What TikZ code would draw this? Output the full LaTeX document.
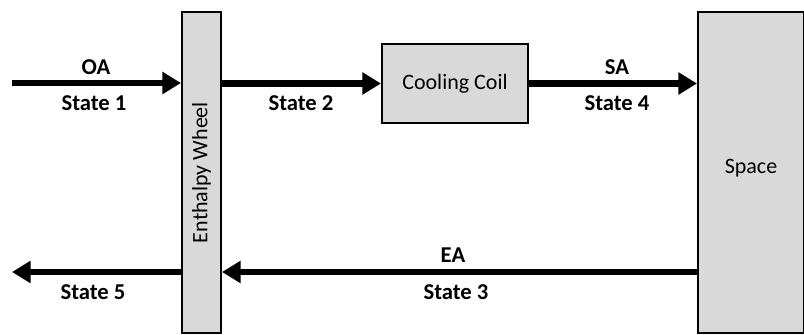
\documentclass[tikz,border=0pt]{standalone}
\usepackage{fontspec}
\setmainfont{Carlito}
\usetikzlibrary{arrows.meta}
\begin{document}
\begin{tikzpicture}[x=0.75pt,y=-0.75pt,
  box/.style={draw=black,line width=1.5pt,fill=black!15,inner sep=0pt,font=\fontsize{16.5}{19}\selectfont},
  flow/.style={line width=5.2pt,-{Triangle[length=14pt,width=16pt]}},
  lbl/.style={font=\bfseries\fontsize{17}{20}\selectfont,inner sep=0pt}]
\useasboundingbox (0,0) rectangle (804,335);
\node[box,minimum width=39*0.75pt,minimum height=321*0.75pt] (wheel) at (201.5,172.5) {};
\node[rotate=90,font=\fontsize{16.5}{19}\selectfont] at (wheel.center) {Enthalpy Wheel};
\node[box,minimum width=146*0.75pt,minimum height=79*0.75pt] (coil) at (455,83.5) {Cooling Coil};
\node[box,minimum width=106*0.75pt,minimum height=321*0.75pt] (space) at (751,172.5) {};
\node[font=\fontsize{16.5}{19}\selectfont] at (751,168) {Space};
\coordinate (oain) at (12,83);
\coordinate (eaout) at (12,272);
\draw[flow] (oain) -- (oain -| wheel.west);
\draw[flow] (wheel.east |- coil.west) -- (coil.west);
\draw[flow] (coil.east) -- (coil.east -| space.west);
\draw[flow] (space.west |- eaout) -- (wheel.east |- eaout);
\draw[flow] (wheel.west |- eaout) -- (eaout);
\node[lbl] (oa) at (96,67) {OA};
\node[lbl] (s1) at (94,103) {State 1};
\node[lbl] (s2) at (301,103) {State 2};
\node[lbl] (sa) at (617,67) {SA};
\node[lbl] (s4) at (617,103) {State 4};
\node[lbl] (ea) at (453,255) {EA};
\node[lbl] (s3) at (456,292) {State 3};
\node[lbl] (s5) at (93,292) {State 5};
\end{tikzpicture}
\end{document}
